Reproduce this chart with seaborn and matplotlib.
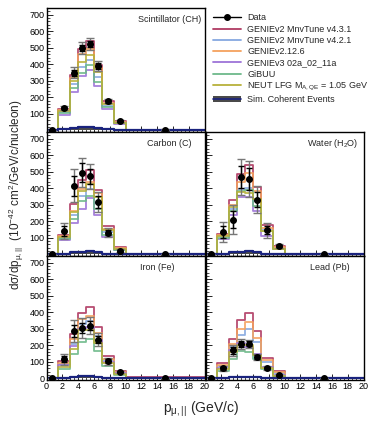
import numpy as np
import matplotlib
matplotlib.use('Agg')
import matplotlib.pyplot as plt
import seaborn as sns
from matplotlib.lines import Line2D
from matplotlib.patches import Patch
from matplotlib.ticker import MultipleLocator

sns.set_theme(style='ticks')
plt.rcParams.update({
    'font.family': ['Liberation Sans', 'DejaVu Sans'],
    'mathtext.fontset': 'custom',
    'mathtext.rm': 'Liberation Sans',
    'mathtext.it': 'Liberation Sans:italic',
    'mathtext.bf': 'Liberation Sans:bold',
    'axes.edgecolor': 'black',
    'axes.linewidth': 1.0,
})

# p_|| bin edges (GeV/c)
bin_edges = [0, 1.5, 3, 4, 5, 6, 7, 8.5, 10, 20]
bin_centers = [0.75, 2.25, 3.5, 4.5, 5.5, 6.5, 7.75, 9.25, 15]

models = ['GENIEv2 MnvTune v4.3.1', 'GENIEv2 MnvTune v4.2.1', 'GENIEv2.12.6',
          'GENIEv3 02a_02_11a', 'GiBUU', 'NEUT LFG M$_{\\mathrm{A,QE}}$ = 1.05 GeV']
model_colors = ['#b03a62', '#86a8e0', '#f4a15e', '#9d74d8', '#6db98a', '#b8b13a']

# Scintillator (CH)
data_ch = [0, 135, 349, 498, 522, 389, 175, 56, 4]
err_ch = [2, 12, 32, 35, 37, 32, 12, 8, 2]
stat_ch = [1, 6, 18, 20, 20, 18, 7, 4, 1]
mc_ch = [[0, 130, 335, 494, 538, 395, 179, 56, 5],
         [0, 112, 280, 385, 425, 325, 150, 44, 4],
         [0, 125, 315, 464, 494, 375, 165, 48, 4],
         [0, 95, 230, 329, 365, 270, 128, 40, 3],
         [0, 104, 255, 349, 395, 295, 140, 42, 3],
         [0, 118, 300, 415, 454, 355, 160, 45, 4]]
coh_ch = [0, 6, 14, 20, 22, 14, 6, 2, 0]

# Carbon (C)
data_c = [0, 142, 415, 495, 471, 316, 132, 22, 3]
err_c = [2, 50, 100, 87, 77, 60, 30, 10, 2]
stat_c = [1, 30, 60, 55, 45, 35, 18, 6, 1]
mc_c = [[0, 118, 305, 450, 510, 390, 172, 42, 4],
        [0, 100, 240, 355, 395, 310, 135, 32, 3],
        [0, 112, 265, 395, 440, 370, 155, 38, 4],
        [0, 85, 190, 275, 340, 235, 105, 25, 3],
        [0, 92, 215, 320, 355, 275, 120, 28, 3],
        [0, 105, 255, 385, 425, 345, 150, 35, 3]]
coh_c = [0, 5, 12, 16, 18, 12, 5, 2, 0]

# Water (H2O)
data_w = [0, 136, 210, 469, 455, 331, 146, 50, 3]
err_w = [2, 60, 87, 110, 110, 80, 45, 10, 2]
stat_w = [1, 35, 50, 65, 65, 45, 25, 6, 1]
mc_w = [[0, 126, 330, 485, 540, 405, 175, 50, 4],
        [0, 108, 275, 395, 400, 320, 150, 38, 3],
        [0, 120, 298, 435, 490, 385, 161, 42, 4],
        [0, 92, 240, 345, 345, 265, 110, 30, 3],
        [0, 100, 260, 385, 390, 295, 140, 32, 3],
        [0, 112, 285, 375, 370, 335, 140, 35, 3]]
coh_w = [0, 5, 12, 16, 18, 12, 5, 2, 0]

# Iron (Fe)
data_fe = [0, 115, 285, 303, 319, 233, 103, 40, 3]
err_fe = [2, 35, 65, 60, 50, 40, 20, 7, 2]
stat_fe = [1, 18, 35, 30, 28, 22, 11, 4, 1]
mc_fe = [[0, 105, 270, 395, 430, 310, 133, 42, 6],
         [0, 85, 205, 330, 345, 255, 109, 33, 4],
         [0, 95, 240, 360, 375, 275, 119, 37, 5],
         [0, 80, 195, 300, 310, 230, 100, 30, 4],
         [0, 55, 150, 220, 235, 165, 74, 20, 3],
         [0, 68, 180, 290, 290, 215, 90, 25, 3]]
coh_fe = [0, 4, 9, 12, 13, 9, 4, 1, 0]

# Lead (Pb)
data_pb = [0, 60, 169, 209, 209, 129, 64, 20, 3]
err_pb = [2, 15, 35, 30, 25, 20, 12, 6, 2]
stat_pb = [1, 9, 20, 17, 15, 12, 7, 3, 1]
mc_pb = [[0, 90, 235, 355, 395, 285, 125, 43, 5],
         [0, 75, 190, 260, 300, 220, 100, 33, 4],
         [0, 82, 205, 300, 340, 245, 108, 37, 4],
         [0, 65, 170, 215, 190, 150, 70, 18, 3],
         [0, 42, 115, 165, 160, 115, 55, 15, 2],
         [0, 55, 160, 200, 200, 140, 62, 15, 3]]
coh_pb = [0, 3, 7, 9, 10, 7, 3, 1, 0]

panels = [
    ('Scintillator (CH)', data_ch, err_ch, stat_ch, mc_ch, coh_ch, 0, 0, 0.782),
    ('Carbon (C)', data_c, err_c, stat_c, mc_c, coh_c, 1, 0, 0.778),
    ('Water (H$_{2}$O)', data_w, err_w, stat_w, mc_w, coh_w, 1, 1, 0.807),
    ('Iron (Fe)', data_fe, err_fe, stat_fe, mc_fe, coh_fe, 2, 0, 0.70),
    ('Lead (Pb)', data_pb, err_pb, stat_pb, mc_pb, coh_pb, 2, 1, 0.785),
]

W, H = 374, 421
fig = plt.figure(figsize=(W / 100, H / 100), dpi=100)

col_x = [46.5, 205.5]
col_w = 158
row_top = [8, 132, 256]
row_h = 124

for name, dat, err, stat, mc, coh, r, c, lx in panels:
    ax = fig.add_axes([col_x[c] / W, 1 - (row_top[r] + row_h) / H, col_w / W, row_h / H])
    # coherent contribution
    sns.histplot(x=bin_centers, weights=coh, bins=bin_edges, element='step', fill=True,
                 color='#4a4a4a', alpha=1.0, linewidth=0, ax=ax)
    for vals, col in zip(mc, model_colors):
        sns.histplot(x=bin_centers, weights=vals, bins=bin_edges, element='step', fill=False,
                     color=col, linewidth=1.3, alpha=0.9, ax=ax)
    sns.histplot(x=bin_centers, weights=coh, bins=bin_edges, element='step', fill=False,
                 color='#1a237e', linewidth=1.6, ax=ax)
    ax.errorbar(bin_centers, dat, yerr=err, fmt='none', ecolor='#777777', elinewidth=1.0,
                capsize=3, capthick=1.0, zorder=5)
    ax.errorbar(bin_centers, dat, yerr=stat, fmt='o', color='black', ms=4, elinewidth=1.0,
                capsize=2, capthick=1.0, zorder=6)
    ax.set_xlabel('')
    ax.set_ylabel('')
    ax.xaxis.set_major_locator(MultipleLocator(2))
    ax.xaxis.set_minor_locator(MultipleLocator(0.5))
    ax.yaxis.set_major_locator(MultipleLocator(100))
    ax.yaxis.set_minor_locator(MultipleLocator(20))
    ax.tick_params(which='both', direction='in', top=False, right=False, labelsize=6.5,
                   pad=1.5, colors='black')
    ax.tick_params(which='major', length=4, width=0.6)
    ax.tick_params(which='minor', length=2, width=0.5)
    if c == 1:
        ax.set_yticklabels([])
    else:
        if r < 2:
            ax.set_yticks([100, 200, 300, 400, 500, 600, 700])
        else:
            ax.set_yticks([0, 100, 200, 300, 400, 500, 600, 700])
    if r < 2:
        ax.set_xticklabels([])
    elif c == 1:
        ax.set_xticks([2, 4, 6, 8, 10, 12, 14, 16, 18, 20])
    ax.set_ylim(-10, 740)
    ax.set_xlim(0, 20)
    ax.text(lx, 0.91, name, transform=ax.transAxes, ha='center', va='center', fontsize=6.5)

handles = [Line2D([], [], color='black', marker='o', ms=4, lw=1.0)]
handles += [Line2D([], [], color=col, lw=1.3) for col in model_colors]
handles.append((Patch(facecolor='#4a4a4a', edgecolor='none'), Line2D([], [], color='#1a237e', lw=1.2)))
labels = ['Data'] + models + ['Sim. Coherent Events']
fig.legend(handles, labels, loc='upper left', bbox_to_anchor=(213 / W, 1 - 13.5 / H),
           frameon=False, fontsize=6.5, handlelength=3.1, handletextpad=0.7,
           labelspacing=0.25, borderpad=0, borderaxespad=0)

fig.text(16 / W, 1 - 195 / H, 'd\u03c3/dp$_{\\mathrm{\u03bc,||}}$  (10$^{-42}$ cm$^{2}$/GeV/c/nucleon)',
         rotation=90, ha='center', va='center', fontsize=8.5)
fig.text(201 / W, 1 - 409 / H, 'p$_{\\mathrm{\u03bc,||}}$ (GeV/c)', ha='center', va='center', fontsize=10)

fig.savefig('out.png', dpi=100)
